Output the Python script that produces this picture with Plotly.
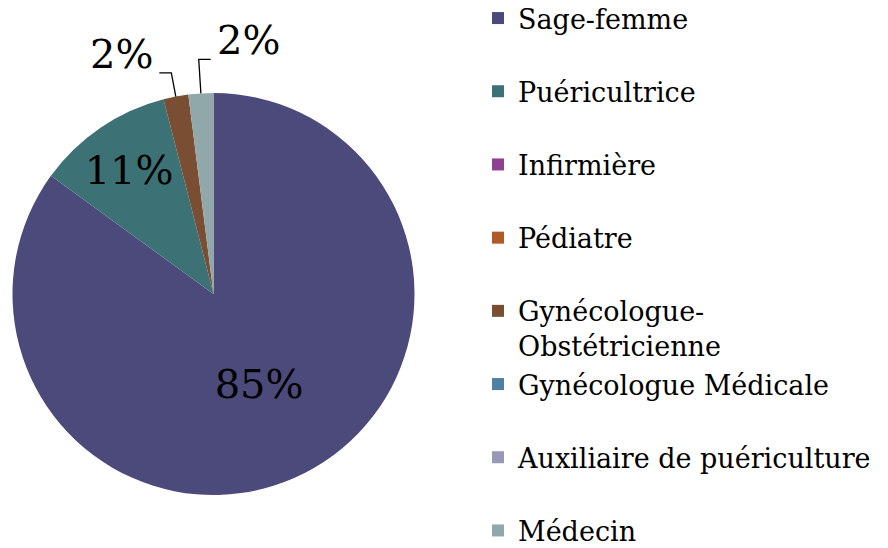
import math
import plotly.graph_objects as go

# ---- data ----
categories = ["Sage-femme", "Puéricultrice", "Infirmière", "Pédiatre",
              "Gynécologue-Obstétricienne", "Gynécologue Médicale",
              "Auxiliaire de puériculture", "Médecin"]
legend_text = ["Sage-femme", "Puéricultrice", "Infirmière", "Pédiatre",
               "Gynécologue-<br>Obstétricienne", "Gynécologue Médicale",
               "Auxiliaire de puériculture", "Médecin"]
values = [85, 11, 0, 0, 2, 0, 0, 2]
colors = ["#4B4A7A", "#3C7275", "#8E4092", "#B05A28",
          "#7A4E33", "#4E80A2", "#9898B6", "#90A8A9"]

# ---- geometry (pixels) ----
W, H = 888, 548
cx, cy, R = 213.5, 294.0, 201.0
FONT = "DejaVu Serif"
LEG_SIZE = 27
LABEL_SIZE = 40

def px(x):
    return x / W

def py(y):
    return 1 - y / H

total = sum(values)
big = [v / total >= 0.05 for v in values]
texttemplate = ["%{percent:.0%}" if b else "" for b in big]

# pad single-line entries to two lines so spacing matches; last entry needs none
leg_labels = []
for i, t in enumerate(legend_text):
    if "<br>" in t or i == len(legend_text) - 1:
        leg_labels.append(t)
    else:
        leg_labels.append(t + "<br> ")

fig = go.Figure(go.Pie(
    labels=leg_labels,
    values=values,
    sort=False,
    direction="clockwise",
    rotation=0,
    marker=dict(colors=colors, line=dict(width=0)),
    texttemplate=texttemplate,
    textposition="inside",
    insidetextorientation="horizontal",
    textfont=dict(family=FONT, size=LABEL_SIZE, color="black"),
    hovertext=categories,
    hoverinfo="text+percent",
    domain=dict(x=[px(cx - R), px(cx + R)], y=[py(cy + R), py(cy - R)]),
))

# outside labels with leader lines for small (non-zero) slices
elbow = [1.12, 1.17]
dirs = [-1, 1]
k = 0
cum = 0
shapes, annotations = [], []
for v in values:
    start = cum
    cum += v
    if v == 0 or v / total >= 0.05:
        continue
    mid = (start + v / 2) / total * 2 * math.pi
    x0, y0 = cx + R * math.sin(mid), cy - R * math.cos(mid)
    x1, y1 = cx + R * elbow[k] * math.sin(mid), cy - R * elbow[k] * math.cos(mid)
    x2 = x1 + dirs[k] * 12
    shapes.append(dict(type="path", xref="paper", yref="paper",
                       path=f"M{px(x0)},{py(y0)} L{px(x1)},{py(y1)} L{px(x2)},{py(y1)}",
                       line=dict(color="black", width=1.3)))
    annotations.append(dict(x=px(x2 + dirs[k] * 4), y=py(y1 - 19), xref="paper", yref="paper",
                            text=f"{round(v / total * 100)}%", showarrow=False,
                            xanchor="right" if dirs[k] < 0 else "left", yanchor="middle",
                            font=dict(family=FONT, size=LABEL_SIZE, color="black")))
    k += 1

fig.update_layout(
    width=W, height=H,
    margin=dict(l=0, r=0, t=0, b=0, autoexpand=False),
    paper_bgcolor="white",
    plot_bgcolor="white",
    font=dict(family=FONT, color="black"),
    showlegend=True,
    legend=dict(x=px(478), y=py(-6), xanchor="left", yanchor="top",
                valign="top", font=dict(family=FONT, size=LEG_SIZE, color="black"),
                bgcolor="rgba(0,0,0,0)", itemclick=False, itemdoubleclick=False,
                maxheight=2000),
    shapes=shapes,
    annotations=annotations,
)

fig.write_html("out.html", config={"displayModeBar": False},
               post_script="document.body.style.margin='0';document.body.style.overflow='hidden';")
